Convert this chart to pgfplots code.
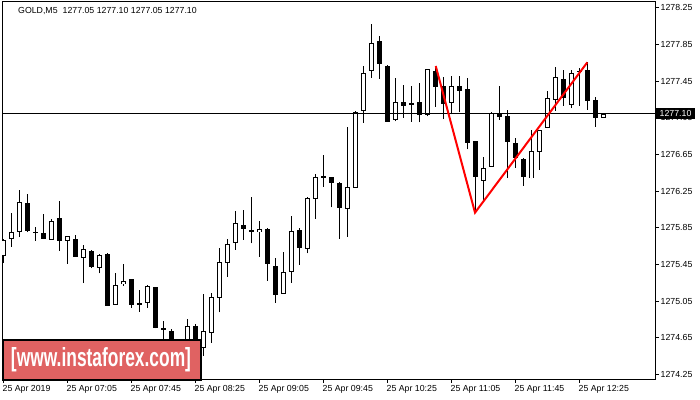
\documentclass[border=0pt]{standalone}
\usepackage{fontspec}
\setmainfont{Liberation Sans}
\usepackage{pgfplots}
\pgfplotsset{compat=1.18}
\usepackage{pgfplotstable}
\usepackage{graphicx}
\definecolor{wm}{RGB}{224,98,98}
\pgfplotstableread{
i O H L C
0 1275.554 1275.726 1275.470 1275.726
1 1275.732 1276.016 1275.645 1275.813
2 1275.819 1276.263 1275.754 1276.140
3 1276.129 1276.220 1275.805 1275.816
4 1275.813 1275.856 1275.710 1275.813
5 1275.805 1276.002 1275.732 1275.732
6 1275.726 1275.944 1275.726 1275.936
7 1275.966 1276.143 1275.601 1275.710
8 1275.704 1275.758 1275.459 1275.758
9 1275.751 1275.769 1275.547 1275.547
10 1275.536 1275.660 1275.246 1275.638
11 1275.609 1275.609 1275.409 1275.427
12 1275.420 1275.562 1275.355 1275.562
13 1275.576 1275.576 1275.012 1275.012
14 1275.016 1275.355 1275.016 1275.235
15 1275.246 1275.453 1275.219 1275.278
16 1275.292 1275.292 1274.979 1275.009
17 1275.038 1275.172 1274.936 1275.038
18 1275.027 1275.230 1274.979 1275.216
19 1275.208 1275.208 1274.755 1274.755
20 1274.766 1274.834 1274.572 1274.744
21 1274.736 1274.744 1274.430 1274.496
22 1274.496 1274.605 1274.409 1274.572
23 1274.518 1274.853 1274.463 1274.787
24 1274.798 1274.798 1274.518 1274.572
25 1274.536 1275.129 1274.456 1274.725
26 1274.711 1275.140 1274.598 1275.104
27 1275.093 1275.627 1274.929 1275.489
28 1275.475 1275.726 1275.318 1275.685
29 1275.693 1276.034 1275.612 1275.911
30 1275.900 1276.045 1275.718 1275.852
31 1275.830 1276.192 1275.680 1275.830
32 1275.813 1275.925 1275.536 1275.838
33 1275.846 1275.846 1275.274 1275.464
34 1275.453 1275.522 1275.034 1275.136
35 1275.136 1275.587 1275.136 1275.376
36 1275.376 1275.980 1275.252 1275.824
37 1275.835 1275.846 1275.448 1275.638
38 1275.631 1276.184 1275.573 1276.184
39 1276.162 1276.438 1275.950 1276.402
40 1276.416 1276.645 1276.299 1276.416
41 1276.402 1276.402 1276.075 1276.336
42 1276.347 1276.347 1275.732 1276.075
43 1276.064 1276.947 1275.754 1276.304
44 1276.299 1277.122 1276.299 1277.122
45 1277.122 1277.616 1276.997 1277.536
46 1277.558 1278.071 1277.488 1277.864
47 1277.886 1277.943 1277.477 1277.635
48 1277.624 1277.624 1277.019 1277.019
49 1277.035 1277.482 1277.013 1277.231
50 1277.242 1277.409 1277.052 1277.194
51 1277.223 1277.398 1277.008 1277.209
52 1277.231 1277.427 1277.002 1277.089
53 1277.078 1277.580 1277.067 1277.580
54 1277.561 1277.619 1277.172 1277.384
55 1277.409 1277.499 1277.035 1277.216
56 1277.209 1277.507 1277.089 1277.395
57 1277.409 1277.507 1277.114 1277.362
58 1277.373 1277.482 1276.707 1276.784
59 1276.798 1276.798 1276.016 1276.397
60 1276.369 1276.623 1276.140 1276.511
61 1276.520 1277.109 1276.520 1277.109
62 1277.109 1277.398 1277.027 1277.063
63 1277.082 1277.136 1276.397 1276.801
64 1276.773 1276.827 1276.507 1276.607
65 1276.602 1276.616 1276.307 1276.408
66 1276.397 1276.918 1276.391 1276.700
67 1276.681 1276.918 1276.482 1276.918
68 1276.943 1277.340 1276.943 1277.275
69 1277.262 1277.605 1277.125 1277.507
70 1277.493 1277.572 1277.183 1277.281
71 1277.198 1277.572 1277.155 1277.547
72 1277.572 1277.591 1277.180 1277.572
73 1277.583 1277.656 1277.136 1277.245
74 1277.245 1277.281 1276.954 1277.052
75 1277.050 1277.100 1277.050 1277.100
}\candles
\begin{document}
\begin{tikzpicture}
\useasboundingbox (0,0) rectangle (700bp,400bp);
\begin{axis}[
  at={(2bp,21bp)}, anchor=south west, scale only axis,
  width=653bp, height=377bp,
  xmin=-0.125, xmax=81.5, ymin=1274.2015, ymax=1278.314,
  axis line style={line width=1bp, black},
  xtick={0,8,16,24,32,40,48,56,64,72},
  xticklabels={25 Apr 2019,25 Apr 07:05,25 Apr 07:45,25 Apr 08:25,25 Apr 09:05,25 Apr 09:45,25 Apr 10:25,25 Apr 11:05,25 Apr 11:45,25 Apr 12:25},
  ytick={1274.25,1274.65,1275.05,1275.45,1275.85,1276.25,1276.65,1277.05,1277.45,1277.85,1278.25},
  scaled y ticks=false,
  xtick pos=left, ytick pos=right, yticklabel pos=right,
  tick align=outside, major tick length=4bp,
  tick style={line width=1bp, black},
  ticklabel style={font=\fontsize{8.8}{10}\selectfont},
  /pgf/number format/assume math mode=true,
  yticklabel style={/pgf/number format/fixed, /pgf/number format/fixed zerofill, /pgf/number format/precision=2, /pgf/number format/1000 sep={}, anchor=west, inner sep=0pt, xshift=1.5bp},
  xticklabel style={anchor=north west, inner sep=0pt, xshift=-0.5bp, yshift=-2.5bp},
]
% wicks
\addplot[draw=none, mark=none, forget plot,
  error bars/.cd, y dir=plus, y explicit, error mark=none,
  error bar style={draw=black, line width=1bp}]
  table[x=i, y=L, y error plus expr=\thisrow{H}-\thisrow{L}] {\candles};
% bodies (outline / black)
\addplot[draw=none, mark=none, forget plot,
  error bars/.cd, y dir=both, y explicit, error mark=none,
  error bar style={draw=black, line width=5bp}]
  table[x=i, y expr={(\thisrow{O}+\thisrow{C})/2}, y error expr={max(abs(\thisrow{C}-\thisrow{O})/2,0.0055)}] {\candles};
% white interiors of bullish candles
\addplot[draw=none, mark=none, forget plot,
  restrict expr to domain={\thisrow{C}-\thisrow{O}}{0.025:10},
  error bars/.cd, y dir=both, y explicit, error mark=none,
  error bar style={draw=white, line width=3bp}]
  table[x=i, y expr={(\thisrow{O}+\thisrow{C})/2}, y error expr={abs(\thisrow{C}-\thisrow{O})/2-0.0109}] {\candles};
% bid line
\addplot[black, line width=1bp, forget plot] coordinates {(-1,1277.10) (85,1277.10)};
% pattern lines
\addplot[red, line width=2bp, forget plot] coordinates {(54.09,1277.616) (59,1276.016) (73.04,1277.656)};
\coordinate (pb) at (axis cs:81.5,1277.10);
\end{axis}
\node[fill=black, text=white, anchor=west, inner xsep=4bp, inner ysep=0pt, minimum height=11bp, font=\fontsize{8.8}{10}\selectfont] at ([xshift=0.5bp]pb) {1277.10};
\draw[line width=2bp, draw=black, fill=wm] (3bp,20bp) rectangle (201bp,60bp);
\node[text=white, inner sep=0pt] at (101bp,40bp) {\resizebox{180bp}{19bp}{\bfseries [www.instaforex.com]}};
\node[anchor=west, inner sep=0pt, font=\fontsize{8.8}{10}\selectfont] at (18bp,389bp) {GOLD,M5\hspace{5bp}1277.05 1277.10 1277.05 1277.10};
\end{tikzpicture}
\end{document}
